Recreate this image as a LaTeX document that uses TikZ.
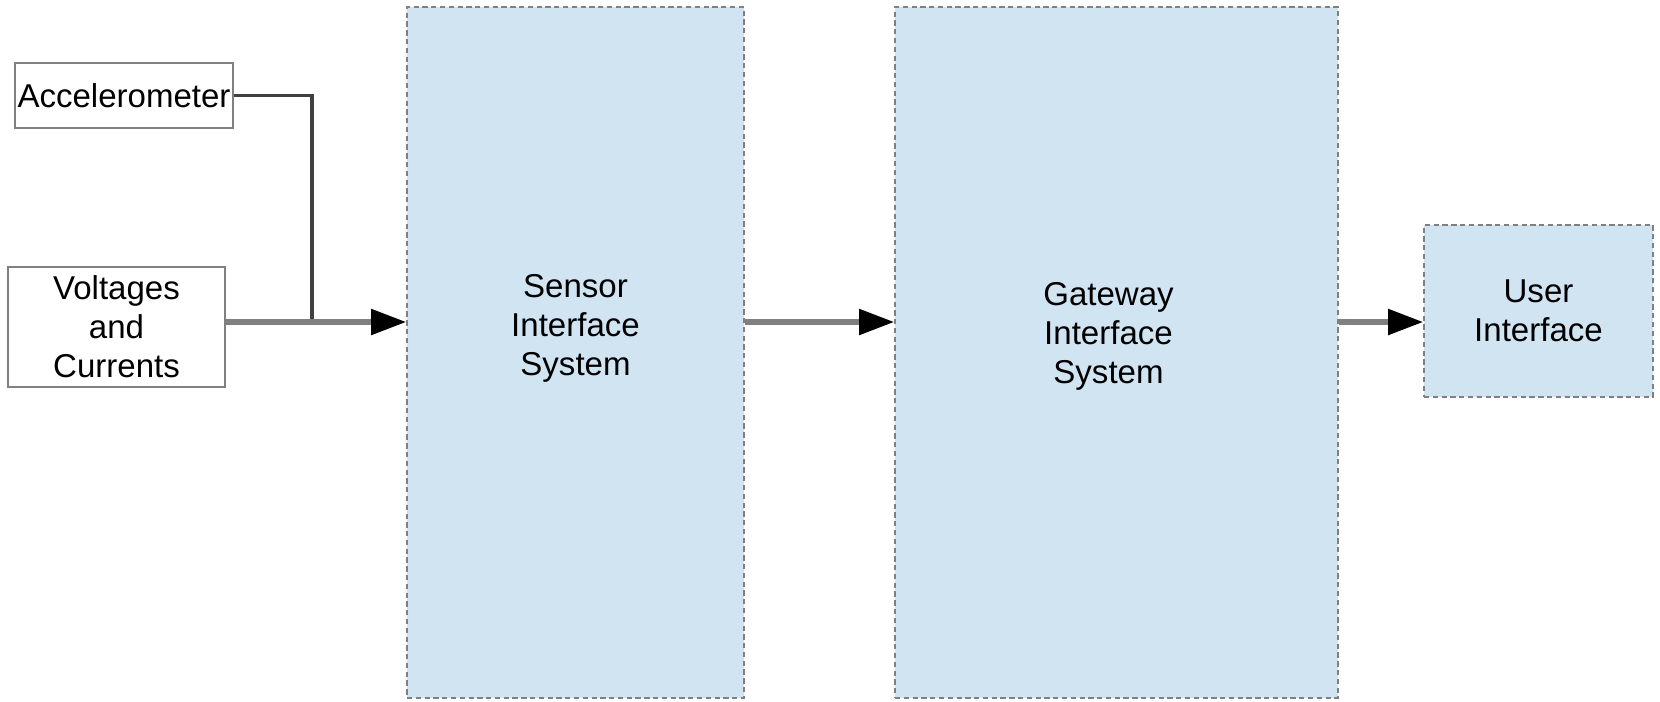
\documentclass[tikz,border=0pt]{standalone}
\usepackage{fontspec}
\setmainfont{Liberation Sans}
\usetikzlibrary{arrows.meta}
\definecolor{boxblue}{RGB}{208,228,242}
\definecolor{linegray}{RGB}{128,128,128}
\definecolor{wiregray}{RGB}{64,64,64}

\begin{document}
\begin{tikzpicture}[
    font=\fontsize{18.8}{22.1}\selectfont,
    inbox/.style={draw=linegray,line width=1.4pt,fill=white,align=center,inner sep=0pt},
    sysbox/.style={draw=linegray,line width=1pt,dash pattern=on 3pt off 2pt,fill=boxblue,align=center,inner sep=0pt},
    link/.style={draw=linegray,line width=3pt},
    wire/.style={draw=wiregray,line width=1.8pt},
    tip/.style={-{Triangle[length=0.7cm,width=0.5cm,color=black]}}
  ]
      \useasboundingbox (0,0) rectangle (33.2,-14.02);
      \draw (2.48,-1.91) node[inbox,minimum width=4.36cm,minimum height=1.30cm] (acc) {Accelerometer};
      \draw (2.33,-6.54) node[inbox,minimum width=4.34cm,minimum height=2.40cm] (volt) {Voltages\\and\\Currents};
      \draw (11.51,-7.05) node[sysbox,minimum width=6.74cm,minimum height=13.82cm,
            label={[align=center,yshift=0.48cm]center:Sensor\\Interface\\System}] (sensor) {};
      \draw (22.33,-7.05) node[sysbox,minimum width=8.86cm,minimum height=13.82cm,
            label={[align=center,xshift=-0.16cm,yshift=0.32cm]center:Gateway\\Interface\\System}] (gateway) {};
      \draw (30.77,-6.22) node[sysbox,minimum width=4.58cm,minimum height=3.44cm] (user) {User\\Interface};
      \coordinate (join) at (6.24,-6.44);
      \draw[wire] (acc.east) -| (join);
      \draw[link,tip] (volt.east |- join) -- (sensor.west |- join);
      \draw[link,tip] (sensor.east |- join) -- (gateway.west |- join);
      \draw[link,tip] (gateway.east |- join) -- (user.west |- join);
    \end{tikzpicture}
\end{document}
